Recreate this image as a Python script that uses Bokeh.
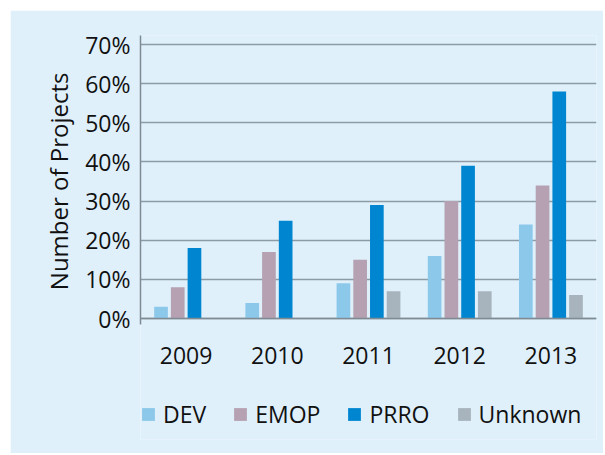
from bokeh.plotting import figure
from bokeh.models import (ColumnDataSource, FactorRange, Range1d, FixedTicker, PrintfTickFormatter,
                          Legend, LegendItem, Title, LinearAxis)
from bokeh.transform import dodge
from bokeh.embed import file_html
from bokeh.resources import INLINE

years = ["2009", "2010", "2011", "2012", "2013"]
dev = [3, 4, 9, 16, 24]
emop = [8, 17, 15, 30, 34]
prro = [18, 25, 29, 39, 58]
unknown = [0, 0, 7, 7, 6]
series_names = ["DEV", "EMOP", "PRRO", "Unknown"]
colors = ["#8cc8ea", "#b5a1b1", "#0086d1", "#a8b4bd"]
y_ticks = [0, 10, 20, 30, 40, 50, 60, 70]
y_title = "Number of Projects"

src = ColumnDataSource(dict(year=years, DEV=dev, EMOP=emop, PRRO=prro, Unknown=unknown))

BG = "#dff0fb"
FONT = "Open Sans"

p = figure(
    x_range=FactorRange(*years, range_padding=0, factor_padding=0),
    y_range=Range1d(-30.9, 72.3),
    width=593, height=443, margin=(10, 0, 0, 10),
    output_backend="svg", toolbar_location=None,
    min_border_left=130, min_border_right=7, min_border_top=25, min_border_bottom=14,
)
p.background_fill_color = BG
p.border_fill_color = BG
p.outline_line_color = None

offsets = [-0.275, -0.0917, 0.0917, 0.275]
items = []
for name, col, off in zip(series_names, colors, offsets):
    r = p.vbar(x=dodge("year", off, range=p.x_range), top=name, width=0.15, source=src,
               fill_color=col, line_color=None)
    items.append(LegendItem(label=name, renderers=[r]))

p.xgrid.visible = False
p.ygrid.ticker = FixedTicker(ticks=y_ticks)
p.ygrid.grid_line_color = "#8d9ba6"
p.ygrid.grid_line_width = 1.5

p.yaxis.bounds = (-1.5, 72.3)
p.yaxis.ticker = FixedTicker(ticks=y_ticks)
p.yaxis.formatter = PrintfTickFormatter(format="%d%%")
p.yaxis.major_tick_line_color = None
p.yaxis.minor_tick_line_color = None
p.yaxis.major_tick_out = 0
p.yaxis.axis_line_color = "#7f8a93"
p.yaxis.axis_line_width = 1.5
p.yaxis.major_label_standoff = 10
p.yaxis.major_label_text_font = FONT
p.yaxis.major_label_text_font_size = "23px"
p.yaxis.major_label_text_color = "#111111"

# spacer axis (no ticks, nothing drawn) between tick labels and the y title
spacer = LinearAxis(ticker=FixedTicker(ticks=[]), axis_line_color=None,
                    major_tick_line_color="#7f8a93", minor_tick_line_color=None,
                    major_tick_out=19, minor_tick_out=0, major_label_standoff=0)
p.add_layout(spacer, "left")

ytitle = Title(text=y_title, align="right", offset=37, standoff=16,
               text_font=FONT, text_font_size="24px", text_font_style="normal",
               text_color="#111111")
p.add_layout(ytitle, "left")

p.xaxis.fixed_location = 0
p.xaxis.axis_line_color = "#7f8a93"
p.xaxis.axis_line_width = 1.5
p.xaxis.major_tick_line_color = None
p.xaxis.major_tick_out = 0
p.xaxis.major_label_standoff = 28
p.xaxis.major_label_text_font = FONT
p.xaxis.major_label_text_font_size = "23px"
p.xaxis.major_label_text_color = "#111111"

legend = Legend(items=items, orientation="horizontal", location=(0, 9))
legend.background_fill_alpha = 0
legend.border_line_color = None
legend.glyph_width = 16
legend.glyph_height = 16
legend.label_standoff = 7
legend.spacing = 26
legend.padding = 0
legend.margin = 0
legend.label_text_font = FONT
legend.label_text_font_size = "23px"
legend.label_text_color = "#111111"
p.add_layout(legend, "center")

open("out.html", "w").write(file_html(p, INLINE))
